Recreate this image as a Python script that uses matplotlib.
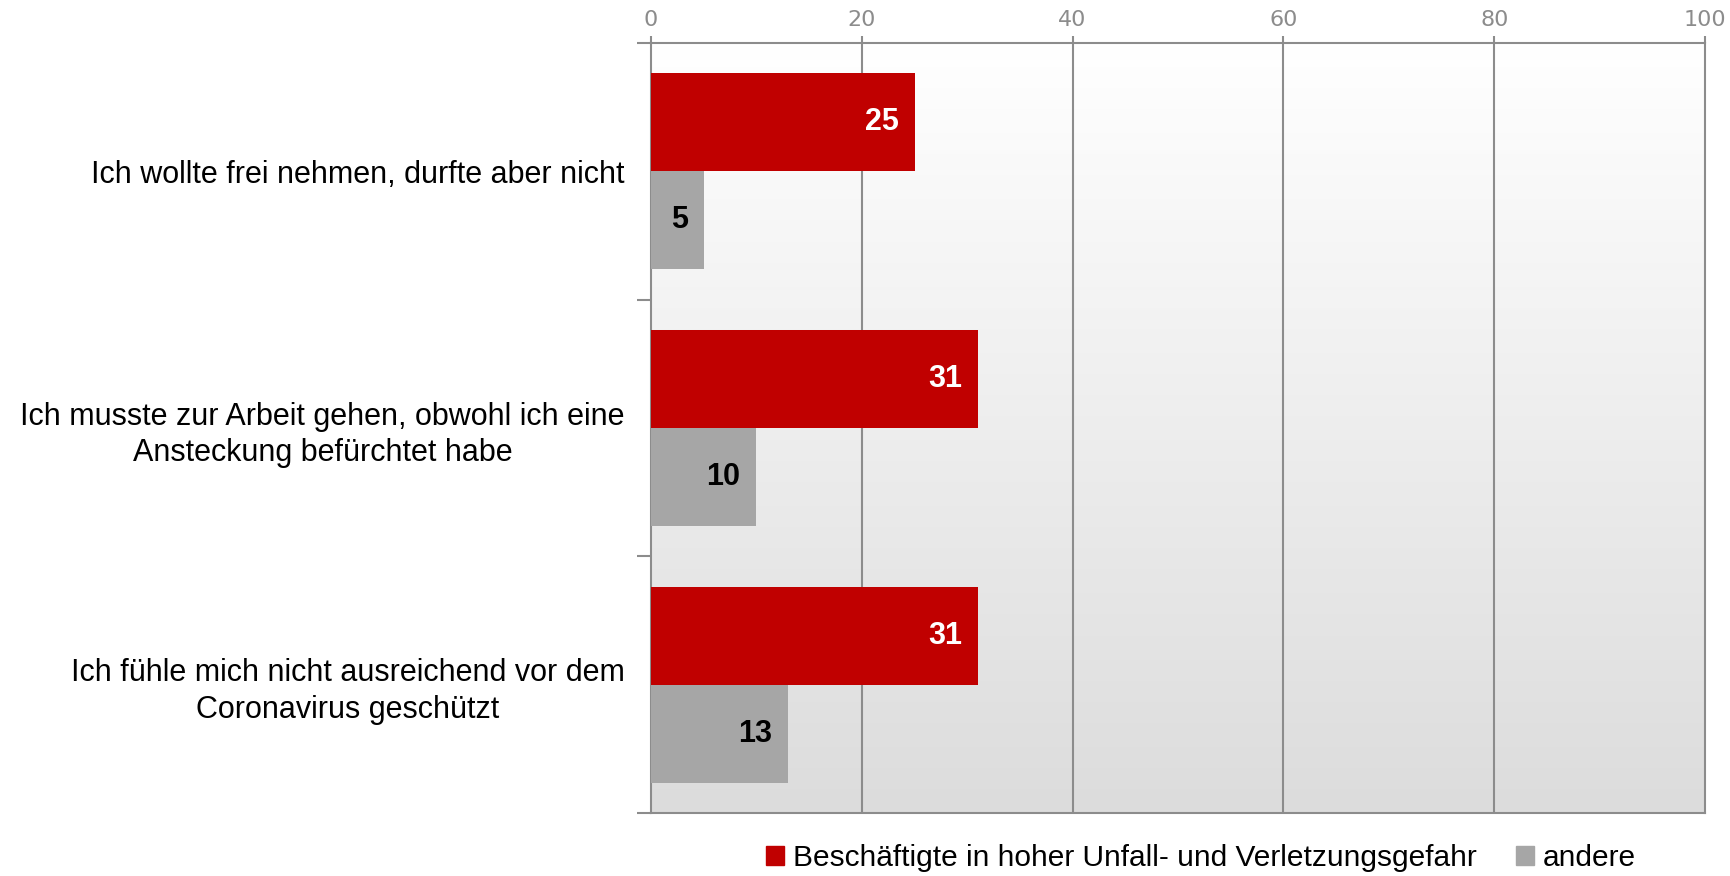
import numpy as np
import matplotlib.pyplot as plt
from matplotlib.patches import Patch

categories = ['Ich wollte frei nehmen, durfte aber nicht',
              'Ich musste zur Arbeit gehen, obwohl ich eine\nAnsteckung befürchtet habe',
              'Ich fühle mich nicht ausreichend vor dem\nCoronavirus geschützt']
series_names = ['Beschäftigte in hoher Unfall- und Verletzungsgefahr', 'andere']
high_risk = [25, 31, 31]
others = [5, 10, 13]
x_ticks = [0, 20, 40, 60, 80, 100]

red = '#c00000'
grey = '#a6a6a6'
line_col = '#8c8c8c'

fig = plt.figure(figsize=(17.3, 8.76), dpi=100)
ax = fig.add_axes([651/1730, 1-813/876, (1705-651)/1730, (813-43)/876])

# background gradient, white at top to light grey at bottom
grad = np.linspace(255, 220, 256).reshape(-1, 1) / 255.0
grad = np.dstack([grad, grad, grad])
ax.imshow(grad, extent=[0, 100, 2.5, -0.5], aspect='auto', zorder=0)

y = np.arange(len(categories))
h = 0.382
bars1 = ax.barh(y - h/2, high_risk, height=h, color=red, zorder=3)
bars2 = ax.barh(y + h/2, others, height=h, color=grey, zorder=3)

for b, v in zip(bars1, high_risk):
    ax.annotate(str(v), (b.get_width(), b.get_y() + b.get_height()/2),
                xytext=(-11.5, 0), textcoords='offset points', ha='right', va='center',
                color='white', fontsize=22, fontweight='bold', family='Liberation Sans', zorder=4)
for b, v in zip(bars2, others):
    ax.annotate(str(v), (b.get_width(), b.get_y() + b.get_height()/2),
                xytext=(-11.5, 0), textcoords='offset points', ha='right', va='center',
                color='black', fontsize=22, fontweight='bold', family='Liberation Sans', zorder=4)

ax.set_xlim(0, 100)
ax.set_ylim(2.5, -0.5)

for v in x_ticks[1:-1]:
    ax.axvline(v, color=line_col, lw=1.5, zorder=1)

ax.xaxis.tick_top()
ax.set_xticks(x_ticks)
ax.tick_params(axis='x', colors=line_col, labelcolor=line_col, labelsize=16,
               length=5, width=1.5, pad=4)
for lab in ax.get_xticklabels():
    lab.set_family('DejaVu Sans')

ax.set_yticks(y)
ax.set_yticklabels(categories, fontsize=22, family='Liberation Sans', linespacing=1.3,
                   multialignment='center')
ax.set_yticks([-0.5, 0.5, 1.5, 2.5], minor=True)
ax.tick_params(axis='y', which='major', length=0, pad=19)
ax.tick_params(axis='y', which='minor', length=10, width=1.5, color=line_col)

for s in ax.spines.values():
    s.set_color(line_col)
    s.set_linewidth(1.5)

handles = [Patch(color=red), Patch(color=grey)]
fig.legend(handles, series_names, loc='center', bbox_to_anchor=(1201/1730, 1-858/876),
           ncol=2, frameon=False, handlelength=0.6, handleheight=0.6, handletextpad=0.3,
           columnspacing=1.3, prop={'family': 'Liberation Sans', 'size': 21.5})

fig.savefig('out.png', dpi=100)
